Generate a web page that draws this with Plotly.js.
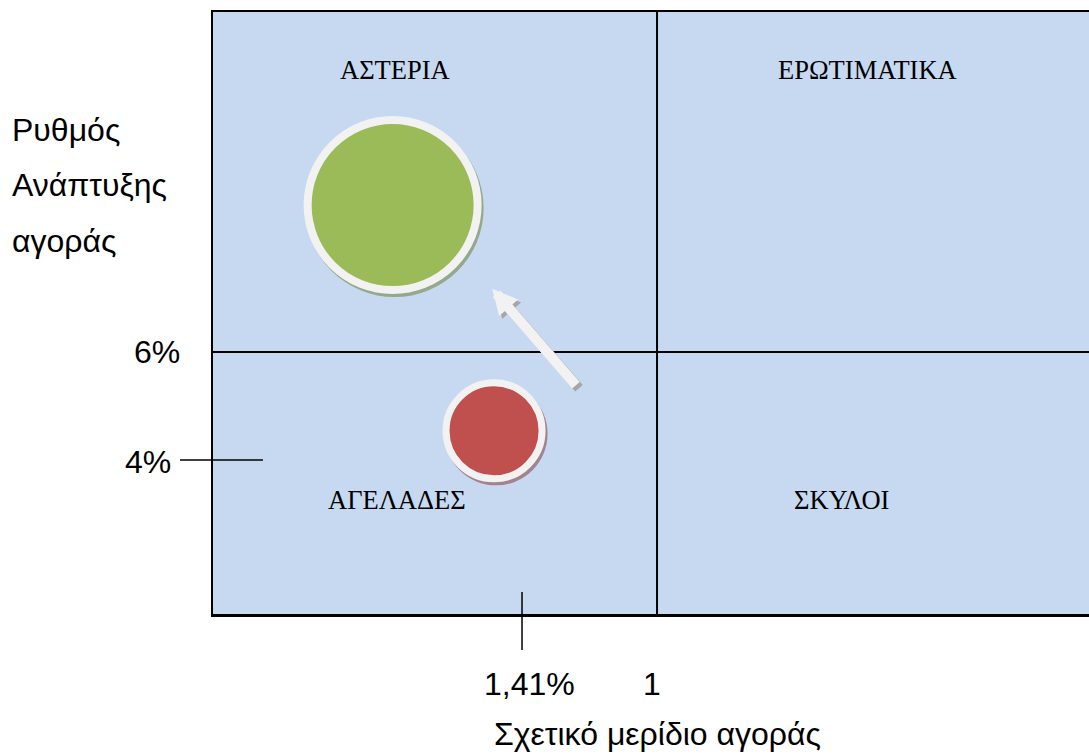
<!DOCTYPE html>
<html>
<head>
<meta charset="utf-8">
<script src="https://cdn.plot.ly/plotly-3.0.1.min.js"></script>
<style>
  html, body { margin: 0; padding: 0; background: #ffffff; }
  #chart { width: 1089px; height: 754px; }
</style>
</head>
<body>
<div id="chart"></div>
<script>
// BCG matrix: relative market share (log, reversed) vs market growth rate
const products = ['Αστέρι', 'Αγελάδα'];
const relativeShare = [1.96, 1.514];
const marketGrowth = [8.72, 4.54];
const productColors = ['#9bbb59', '#c0504d'];

// Quadrant dividers
const shareDivider = 1;
const growthDivider = 6;

// Tick labels
const growthTickVals = [6, 4];
const growthTickText = ['6%', '4%'];
const shareTickVals = [1.41, 1];
const shareTickText = ['1,41%', '1'];

// Quadrant names
const quadrantNames = ['ΑΣΤΕΡΙΑ', 'ΕΡΩΤΙΜΑΤΙΚΑ', 'ΑΓΕΛΑΔΕΣ', 'ΣΚΥΛΟΙ'];

// Movement arrow: from the cow position towards the star quadrant
const arrowTip = {share: 1.521, growth: 7.17};

// Axis titles
const growthTitleLines = ['Ρυθμός', 'Ανάπτυξης', 'αγοράς'];
const shareTitle = 'Σχετικό μερίδιο αγοράς';

const SANS = 'Liberation Sans, Arial, sans-serif';
const SERIF = 'Liberation Serif, Times New Roman, serif';
const LABEL_SIZE = 32;

// log-share range of the horizontal axis (reversed: high share on the left)
const shareLogRange = [0.4908, -0.4775];

// bubble styling
const bubbleSizes = [170, 96];
const ringWidths = [8, 7];
const shadowColors = ['#93a98a', '#a3838c'];

const traces = [{
  type: 'scatter',
  mode: 'markers',
  x: relativeShare,
  y: marketGrowth,
  text: products,
  hoverinfo: 'text',
  marker: {
    size: bubbleSizes,
    color: productColors,
    opacity: 1,
    line: {color: '#f2f2f2', width: ringWidths}
  },
  cliponaxis: false
}];

const shapes = [];

// soft drop shadows under each bubble (placed on a linear twin of the log axis)
relativeShare.forEach((s, i) => {
  const r = (bubbleSizes[i] + ringWidths[i]) / 2;
  shapes.push({
    type: 'circle', layer: 'below',
    xref: 'x2', yref: 'y',
    xsizemode: 'pixel', ysizemode: 'pixel',
    xanchor: Math.log10(s), yanchor: marketGrowth[i],
    x0: -r + 2, x1: r + 2, y0: -r - 3, y1: r - 3,
    fillcolor: shadowColors[i],
    line: {width: 0}
  });
});

// quadrant dividers
shapes.push({
  type: 'line', xref: 'x', yref: 'paper',
  x0: shareDivider, x1: shareDivider, y0: 0, y1: 1,
  line: {color: '#000000', width: 2}
});
shapes.push({
  type: 'line', xref: 'paper', yref: 'y',
  x0: 0, x1: 1, y0: growthDivider, y1: growthDivider,
  line: {color: '#000000', width: 2}
});

// crossing tick for 4%
shapes.push({
  type: 'line', xref: 'paper', yref: 'y',
  x0: -0.0377, x1: 0.057, y0: growthTickVals[1], y1: growthTickVals[1],
  line: {color: '#000000', width: 1.5}
});
// crossing tick for 1,41%
shapes.push({
  type: 'line', xref: 'x', yref: 'paper',
  x0: shareTickVals[0], x1: shareTickVals[0], y0: 0.0365, y1: -0.0598,
  line: {color: '#000000', width: 1.5}
});

const annotations = [];

// quadrant labels
const quadPos = [[0.2078, 0.9037], [0.7477, 0.9037], [0.2100, 0.1894], [0.7180, 0.1894]];
quadrantNames.forEach((name, i) => {
  annotations.push({
    xref: 'paper', yref: 'paper',
    x: quadPos[i][0], y: quadPos[i][1],
    text: name, showarrow: false,
    xanchor: 'center', yanchor: 'middle',
    font: {family: SERIF, size: 26.5, color: '#000000'}
  });
});

// growth tick labels
annotations.push({
  xref: 'paper', yref: 'y', x: -0.0354, y: growthTickVals[0],
  text: growthTickText[0], showarrow: false, xanchor: 'right', yanchor: 'middle',
  font: {family: SANS, size: LABEL_SIZE, color: '#000000'}
});
annotations.push({
  xref: 'paper', yref: 'y', x: -0.0457, y: growthTickVals[1], yshift: -2,
  text: growthTickText[1], showarrow: false, xanchor: 'right', yanchor: 'middle',
  font: {family: SANS, size: LABEL_SIZE, color: '#000000'}
});

// share tick labels (annotation x on a log axis is in log10 units)
const shareShifts = [7, -5];
shareTickVals.forEach((v, i) => {
  annotations.push({
    xref: 'x', yref: 'paper', x: Math.log10(v), y: -0.1163, xshift: shareShifts[i],
    text: shareTickText[i], showarrow: false, xanchor: 'center', yanchor: 'middle',
    font: {family: SANS, size: LABEL_SIZE, color: '#000000'}
  });
});

// growth axis title, one line per annotation
const titleY = [0.8048, 0.7118, 0.6188];
growthTitleLines.forEach((line, i) => {
  annotations.push({
    xref: 'paper', yref: 'paper', x: -0.2318, y: titleY[i],
    text: line, showarrow: false, xanchor: 'left', yanchor: 'middle',
    font: {family: SANS, size: LABEL_SIZE, color: '#000000'}
  });
});

// share axis title, kept fully inside the figure's bottom edge
annotations.push({
  xref: 'x', yref: 'paper', x: Math.log10(shareDivider), y: 0, yshift: -140,
  text: shareTitle, showarrow: false, xanchor: 'center', yanchor: 'bottom',
  font: {family: SANS, size: LABEL_SIZE, color: '#000000'}
});

// movement arrow with shadow
[{color: '#a6a6a6', dx: 3, dy: -3}, {color: '#f2f2f2', dx: 0, dy: 0}].forEach(a => {
  annotations.push({
    xref: 'x', yref: 'y',
    x: Math.log10(arrowTip.share), y: arrowTip.growth,
    ax: 85, ay: 98,
    xshift: a.dx, yshift: a.dy,
    text: '', showarrow: true,
    arrowhead: 2, arrowsize: 0.5, arrowwidth: 10,
    arrowcolor: a.color, standoff: 0, startstandoff: 0
  });
});

const layout = {
  width: 1089,
  height: 754,
  margin: {l: 213, r: 0, t: 12, b: 140, pad: 0},
  paper_bgcolor: '#ffffff',
  plot_bgcolor: '#c6d9f0',
  showlegend: false,
  xaxis: {
    type: 'log',
    range: shareLogRange,
    showgrid: false, zeroline: false,
    showticklabels: false, ticks: '',
    showline: true, mirror: true,
    linecolor: '#000000', linewidth: 2.5,
    fixedrange: true
  },
  xaxis2: {
    type: 'linear',
    overlaying: 'x',
    range: shareLogRange,
    visible: false,
    fixedrange: true
  },
  yaxis: {
    range: [1.148, 12.2963],
    showgrid: false, zeroline: false,
    showticklabels: false, ticks: '',
    showline: true, mirror: false,
    linecolor: '#000000', linewidth: 2.5,
    fixedrange: true
  },
  shapes: shapes,
  annotations: annotations
};

Plotly.newPlot('chart', traces, layout, {displayModeBar: false, staticPlot: true});
</script>
</body>
</html>
